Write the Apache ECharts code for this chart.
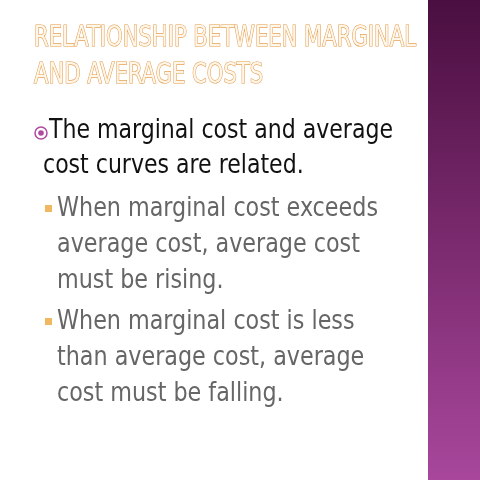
<!DOCTYPE html>
<html><head><meta charset="utf-8">
<script src="https://cdn.jsdelivr.net/npm/echarts@6/dist/echarts.min.js"></script>
<style>html,body{margin:0;padding:0;background:#fff}#main{width:480px;height:480px}</style>
</head><body><div id="main"></div>
<script>
var titleLines = ['RELATIONSHIP BETWEEN MARGINAL', 'AND AVERAGE COSTS'];
var mainLines = ['The marginal cost and average', 'cost curves are related.'];
var subPoints = [
  ['When marginal cost exceeds', 'average cost, average cost', 'must be rising.'],
  ['When marginal cost is less', 'than average cost, average', 'cost must be falling.']
];

var chart = echarts.init(document.getElementById('main'));
var font = '"DejaVu Sans Condensed", "DejaVu Sans", sans-serif';
var ctx = document.createElement('canvas').getContext('2d');
function fitScale(text, f, target) {
  ctx.font = f;
  return target / ctx.measureText(text).width;
}
var titleFont = '28px ' + font, mainFont = '27px ' + font, subFont = '26px ' + font;
var sTitle = fitScale(titleLines[0], titleFont, 382);
var sMain = fitScale(mainLines[0], mainFont, 344);
var sSub = fitScale(subPoints[0][0], subFont, 321);
var els = [];

els.push({
  type: 'rect', shape: { x: 428, y: 0, width: 52, height: 480 },
  style: { fill: new echarts.graphic.LinearGradient(0, 0, 0, 1, [
    { offset: 0, color: '#4a0f40' }, { offset: 0.5, color: '#7a2a6e' }, { offset: 1, color: '#a8479c' }
  ]) }
});

function txt(t, x, y, f, s, style) {
  els.push({ type: 'text', x: x, y: y, scaleX: s,
    style: Object.assign({ text: t, font: f, x: 0, y: 0 }, style) });
}

titleLines.forEach(function (t, i) {
  txt(t, 34, 25 + i * 37, titleFont, sTitle, { fill: '#fff6ea', stroke: '#e39a48', lineWidth: 1.2 });
});

els.push({ type: 'circle', shape: { cx: 41, cy: 133, r: 6 }, style: { fill: 'none', stroke: '#b04aa0', lineWidth: 1.5 } });
els.push({ type: 'circle', shape: { cx: 41, cy: 133, r: 2.8 }, style: { fill: '#b04aa0' } });
mainLines.forEach(function (t, i) {
  txt(t, i === 0 ? 49 : 43, 117 + i * 35, mainFont, sMain, { fill: '#111' });
});

var y = 196;
subPoints.forEach(function (lines) {
  els.push({ type: 'rect', shape: { x: 45, y: y + 9, width: 7, height: 7 }, style: { fill: '#f0b860' } });
  lines.forEach(function (t, i) {
    txt(t, 57, y + i * 36, subFont, sSub, { fill: '#666' });
  });
  y += 113;
});

chart.setOption({ backgroundColor: '#fff', graphic: { elements: els } });
</script></body></html>
